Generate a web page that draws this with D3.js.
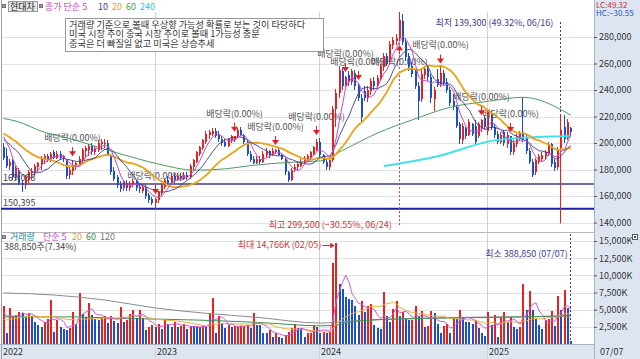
<!DOCTYPE html>
<html><head><meta charset="utf-8">
<script src="https://cdn.jsdelivr.net/npm/d3@7/dist/d3.min.js"></script>
<style>
html,body{margin:0;padding:0;background:#fff;}
svg{display:block;}
text{font-family:"Noto Sans CJK KR","Noto Sans",sans-serif;font-size:9px;}
</style></head><body>
<svg id="chart" width="640" height="359"></svg>
<script>
// ---------------- DATA (weekly, prices in thousand won, volume in thousand shares) ----------------
const stockName = "현대차";
const startWeek = "2022-01-31";
const opens = [197,190,183,187,174,180,170,168,172,177, 178,182,184,188,190,188,193,189,192,190,
  187,176,179,182,184,187,194,195,198,193, 195,199,199,200,191,179,174,169,166,170,
  166,169,171,167,164,167,161,158,155,157, 162,167,172,170,175,172,175,173,176,174,
  182,186,192,196,201,206,207,209,206,203, 201,198,202,202,205,210,206,201,192,188,
  185,188,186,191,194,191,193,195,191,188, 178,172,180,182,183,185,188,189,192,195,
  201,191,186,182,187,226,238,254,244,251, 246,253,243,234,239,234,239,247,243,249,
  257,266,261,274,277,279,292,276,266,258, 254,243,233,251,256,250,233,248,244,253,
  246,240,232,227,214,202,211,206,214,213, 205,211,219,209,222,212,207,201,208,199,
  205,193,199,204,208,204,194,186,178,186, 188,190,192,199,186,182,196,212,204,211];
const highs = [200,196,188,188,183,181,172,176,180,181, 184,186,190,192,192,193,195,194,194,191,
  188,182,187,186,190,196,198,199,200,198, 202,203,203,202,192,182,176,171,172,172,
  171,173,172,169,169,168,162,159,158.5,164, 169,173,175,177,177,177,177,178,178,184,
  188,194,198,203,209,210,211,211,209,205, 203,204,206,205.5,211,212,207,202,194,190,
  190,190,194,196,195,196,195.5,196,192,189, 179,181,184,186,188,190,192,194,198,203,
  204,192,187,188,228,241,258,257,250.5,254, 256,255,244.5,237,243,243,249,250,251,260,
  268,268,277,280,282,299.5,297,279,268,261, 256,246,255,258,258,252,242,256,257,255,
  249,242,237,229,216,215,212,218,215,217, 216,218,221,226,224,214,209,208,210,208,
  205.3,202,207,209,234.5,206,196,188,189,192, 193,195,201,200,188,197,222,221,218,212];
const lows = [187,181,180,172,172,168,163,165,170,173, 176,178,180,184,186,186,188,188,187,186,
  173,173,176,180,183,185,189,190,191,191, 193,195,196,190,176,171,166,163,164,164,
  164,167,164,162,162,158,155,153,150.395,155, 160,165,168,169,170,171,171,172,172,173,
  180,185,190,195,199,203,205,204,201,198, 197,197,200,201,204,205,199,190,186,184,
  184,184,185,189,189,190,192,190,187,176, 170.6,171,178,180,182,184,186,187,191,194,
  189,184,180,180,186,212,234,240,242,243, 244,240,232,215,232,231,236,240,241,247,
  254,258,259,271,274,276,274,262,254,250, 241,217,231,248,247,230,224,242,242,243,
  238,228,225,211,199,199,203,205,205,199, 204,208,210,206,210,204,199,199,198,196,
  191,191,197,202,201,192,184,174,176,184, 186,187,190,182,179,180,139.3,200,202,206];
const closes = [189,183,186,174,181,170,168,174,178,179, 183,185,189,190,188,192,189,192,189,188,
  175,180,183,185,188,195,196,198,193,196, 200,201,200,192,178,173,168,165,171,166,
  170,171,166,165,167,160,157,155,158,163, 168,172,170,175,172,175,173,176,174,183,
  187,193,197,202,207,208,209,205,203,200, 198,203,205,205,210,206,201,192,187,185,
  188,186,192,194,191,194,195,191,188,178, 172,180,182,184,186,189,190,193,197,201,
  191,186,182,187,226,238,255,243,250,246, 254,243,234,220,234,240,247,243,249,258,
  266,260,275,278,279,293,276,265,257,252, 243,232,252,256,250,234,240,244,253,245,
  240,230,227,213,203,213,205,216,207,201, 214,217,212,224,212,206,201,206,200,206,
  193,200,205,207,203,194,186,176,187,190, 191,193,199,184,181,195,210,203,216,208];
const volumes = [5530,1600,5290,4080,4220,4700,4560,3930,4510,4080, 3250,2770,2520,3250,3590,6400,1790,3500,2520,2180,
  2040,2380,4700,2910,7380,4370,3880,5920,4220,3590, 3560,3880,4080,3010,4080,3390,3100,5340,3250,3500,
  4370,4950,3740,4950,3740,2040,2520,2770,2520,2910, 2140,3500,2910,2520,3250,2520,2620,2910,2140,2620,
  2600,2520,2480,2560,2500,4460,6650,1550,4080,3010, 2280,2770,2520,2560,2620,2650,2680,2770,2380,4460,
  2770,2700,1650,1550,2040,1070,1550,1070,830,1310, 1790,2280,2870,2280,2260,1070,1550,1550,2770,2520,
  1550,1790,1550,1790,11840,14766,8740,7960,6890,6500, 6400,5530,4220,6300,4700,5530,5820,2770,2280,2140,
  7620,4080,3250,5050,6300,4080,4700,3590,3450,3500, 5530,4080,4800,2520,2600,4850,4460,2910,1550,2620,
  2910,1550,3740,3700,4950,3880,3250,3200,2910,3390, 2280,1550,1160,4700,2770,4220,970,3880,4700,3250,
  3880,2520,2140,2520,8740,4950,7770,4950,3590,2770, 2140,3500,3590,4850,2620,6990,4950,7860,5298,388.85];
// weeks before the first visible bar (for the short moving averages)
const prevCloses = [214,213,212,212,211,211,212,210,211,210,206,203,200,198,198,205,210,213,207];
const prevVolumes = [3200,2900,3100,2800,3300,3000,2700,3400,3100,3600,2900,3300,3800,3500,3900,4200,5100,4400,3800];
// long moving averages (week index, value)
const ma60Idx = [0,4,13,20,31,41,50,60,70,78,91,100,107,118,129,141,153,164,179];
const ma60Val = [218.5,216.5,208,204,196,189,183.5,179.5,180.5,183,185.5,186.5,194.5,207.5,217.5,227,231.5,234.5,221];
const ma240Idx = [120,137,154,164,179];
const ma240Val = [182.6,190,201.6,204,205.3];
const volMa60Idx = [0,20,40,60,80,100,104,110,118,130,150,165,179];
const volMa60Val = [3950,3950,3700,3500,3150,2650,2700,3250,3550,3700,3850,3950,4150];
const volMa120Idx = [0,16,32,48,64,80,100,110,125,140,160,179];
const volMa120Val = [7430,7130,6400,5240,4470,3880,3050,3350,3650,3850,3950,4050];
const dividendIdx = [22,48,73,86,99,108,112,125,138,151,160];
const supportLevels = [169058, 150395];
const priceTicks = [140000,160000,180000,200000,220000,240000,260000,280000];
const volTicks = [2500,5000,7500,10000,12500,15000];
const noteLines = ["거래량 기준으로 볼때 우상향 가능성 확률로 보는 것이 타당하다",
  "미국 시장 추이 중국 시장 추이로 볼때 1가능성 충분",
  "중국은 더 빠질일 없고 미국은 상승추세"];

// ---------------- BUILD ----------------
const K = 1000;
const N = closes.length;
const t0 = new Date(startWeek + "T00:00:00Z");
const bars = d3.range(N).map(i => ({i, date: d3.utcDay.offset(t0, 7*i),
  o: opens[i]*K, h: highs[i]*K, l: lows[i]*K, c: closes[i]*K, v: volumes[i]}));
const allC = prevCloses.concat(closes).map(v => v*K);
const allV = prevVolumes.concat(volumes);
const P = prevCloses.length;
const sma = (arr, n) => d3.range(N).map(i => d3.mean(arr.slice(P+i+1-n, P+i+1)));

const svg = d3.select("#chart");
const W = 640, H = 359, plotL = 1, plotR = 594, pTop = 12, pBot = 232, vTop = 233, vBot = 344, axTop = 345;
const x = d3.scaleLinear().domain([0, N-1]).range([3.5, 570.9]);
const yP = d3.scaleLinear().domain([140000, 280000]).range([222.5, 37]);
const yV = d3.scaleLinear().domain([0, 15000]).range([vBot, 241]);
const UP = "#e32222", DN = "#1d4fc8";

svg.append("rect").attr("width", W).attr("height", H).attr("fill", "#fff");
svg.append("rect").attr("x", plotR).attr("y", 0).attr("width", W-plotR).attr("height", H).attr("fill", "#dde6f0");
svg.append("rect").attr("x", 0).attr("y", axTop).attr("width", plotR).attr("height", H-axTop).attr("fill", "#dde6f0");

const defs = svg.append("defs");
defs.append("clipPath").attr("id", "clipP").append("rect").attr("x", plotL).attr("y", pTop-4).attr("width", plotR-plotL).attr("height", pBot-pTop+4);
defs.append("clipPath").attr("id", "clipV").append("rect").attr("x", plotL).attr("y", vTop).attr("width", plotR-plotL).attr("height", vBot-vTop);
defs.append("clipPath").attr("id", "clipNote").append("rect").attr("x", 66).attr("y", 19).attr("width", 257).attr("height", 32);

// grid
const grid = svg.append("g").attr("shape-rendering", "crispEdges");
grid.selectAll("line.gp").data(priceTicks).join("line").attr("class", "gp")
  .attr("x1", plotL).attr("x2", plotR).attr("y1", d => Math.round(yP(d))+0.5).attr("y2", d => Math.round(yP(d))+0.5)
  .attr("stroke", "#e2e2e2");
grid.selectAll("line.gv").data(volTicks).join("line").attr("class", "gv")
  .attr("x1", plotL).attr("x2", plotR).attr("y1", d => Math.round(yV(d))+0.5).attr("y2", d => Math.round(yV(d))+0.5)
  .attr("stroke", "#e2e2e2");
const yearStarts = bars.filter((b, i) => i === 0 || b.date.getUTCFullYear() !== bars[i-1].date.getUTCFullYear());
grid.selectAll("line.yr").data(yearStarts.slice(1)).join("line").attr("class", "yr")
  .attr("x1", d => Math.round(x(d.i))-0.5).attr("x2", d => Math.round(x(d.i))-0.5)
  .attr("y1", pTop).attr("y2", H).attr("stroke", "#d2d2d2");
// panel borders
grid.append("line").attr("x1", plotL+0.5).attr("x2", plotL+0.5).attr("y1", 0).attr("y2", H).attr("stroke", "#a0a0a0");
grid.append("line").attr("x1", plotL).attr("x2", plotR).attr("y1", pBot+0.5).attr("y2", pBot+0.5).attr("stroke", "#b8b8b8");
grid.append("line").attr("x1", 0).attr("x2", plotR).attr("y1", axTop-0.5).attr("y2", axTop-0.5).attr("stroke", "#a8b4c4");
grid.append("line").attr("x1", plotR+0.5).attr("x2", plotR+0.5).attr("y1", 0).attr("y2", H).attr("stroke", "#a8b4c4");

// support lines
const supColors = ["#6e6ea2", "#1c1ca8"];
svg.selectAll("line.sup").data(supportLevels).join("line").attr("class", "sup")
  .attr("x1", plotL).attr("x2", plotR).attr("y1", d => yP(d)).attr("y2", d => yP(d))
  .attr("stroke", (d, i) => supColors[i]).attr("stroke-width", 2);

// max / min markers
const iMax = d3.maxIndex(bars, b => b.h), iMin = d3.minIndex(bars, b => b.l);
const last = bars[N-1];
const fmtD = d3.utcFormat("%m/%d");
svg.append("line").attr("x1", Math.round(x(iMax))-0.5).attr("x2", Math.round(x(iMax))-0.5)
  .attr("y1", yP(bars[iMax].h)).attr("y2", 225).attr("stroke", "#b04848").attr("stroke-dasharray", "2,2");
svg.append("line").attr("x1", Math.round(x(iMin))-0.5).attr("x2", Math.round(x(iMin))-0.5)
  .attr("y1", 22).attr("y2", yP(bars[iMin].l)).attr("stroke", "#3c3c90").attr("stroke-dasharray", "2,2");

// dividend labels behind candles (as in the reference)
const gdl = svg.append("g");
const gd = svg.append("g");
const gc = svg.append("g").attr("clip-path", "url(#clipP)").attr("shape-rendering", "crispEdges");
// candles
gc.selectAll("line.wick").data(bars).join("line").attr("class", "wick")
  .attr("x1", d => Math.round(x(d.i))-0.5).attr("x2", d => Math.round(x(d.i))-0.5)
  .attr("y1", d => yP(d.h)).attr("y2", d => yP(d.l))
  .attr("stroke", d => d.c >= d.o ? UP : DN);
gc.selectAll("rect.body").data(bars).join("rect").attr("class", "body")
  .attr("x", d => Math.round(x(d.i))-1).attr("width", 2)
  .attr("y", d => yP(Math.max(d.o, d.c))).attr("height", d => Math.max(1, Math.abs(yP(d.o)-yP(d.c))))
  .attr("fill", d => d.c >= d.o ? UP : DN);

// price moving averages
const lineIdx = d3.line().x((d, i) => x(i)).y(d => yP(d));
const mas = [{n: 5, c: "#c84ac8", w: 1}, {n: 10, c: "#3c3c8a", w: 0.9}, {n: 20, c: "#e8a318", w: 1.8}];
const gm = svg.append("g").attr("clip-path", "url(#clipP)").attr("fill", "none");
gm.append("path").attr("d", d3.line().x((d, k) => x(ma60Idx[k])).y(d => yP(d*K)).curve(d3.curveMonotoneX)(ma60Val))
  .attr("stroke", "#4e9a62").attr("stroke-width", 1);
gm.append("path").attr("d", d3.line().x((d, k) => x(ma240Idx[k])).y(d => yP(d*K)).curve(d3.curveMonotoneX)(ma240Val))
  .attr("stroke", "#44e2e6").attr("stroke-width", 2);
mas.slice().reverse().forEach(m => {
  gm.append("path").attr("d", lineIdx(sma(allC, m.n))).attr("stroke", m.c).attr("stroke-width", m.w);
});

// dividend markers: arrow above the high, or below the low when there is no room above
dividendIdx.forEach(i => {
  const cx = Math.round(x(i))-0.5;
  let tip = yP(bars[i].h) - 4;
  if (tip - 24 < pTop) {
    tip = yP(bars[i].l) + 3;
    gd.append("path").attr("d", `M${cx-3.5},${tip+5}L${cx+3.5},${tip+5}L${cx},${tip}Z`).attr("fill", "#e02020");
    gd.append("line").attr("x1", cx).attr("x2", cx).attr("y1", tip+4).attr("y2", tip+9).attr("stroke", "#e02020");
    gdl.append("text").attr("x", cx).attr("y", tip+20).attr("text-anchor", "middle").attr("fill", "#555").text("배당락(0.00%)");
  } else {
    gd.append("line").attr("x1", cx).attr("x2", cx).attr("y1", tip-9).attr("y2", tip-4).attr("stroke", "#e02020");
    gd.append("path").attr("d", `M${cx-3.5},${tip-5}L${cx+3.5},${tip-5}L${cx},${tip}Z`).attr("fill", "#e02020");
    gdl.append("text").attr("x", cx).attr("y", tip-15).attr("text-anchor", "middle").attr("fill", "#555").text("배당락(0.00%)");
  }
});
gd.raise();

// support level labels
svg.selectAll("text.sup").data(supportLevels).join("text").attr("class", "sup")
  .attr("x", 3).attr("y", d => yP(d)-2.5).attr("fill", "#444").text(d => d3.format(",")(d));

// volume bars
const gv = svg.append("g").attr("clip-path", "url(#clipV)").attr("shape-rendering", "crispEdges");
gv.selectAll("rect.vb").data(bars).join("rect").attr("class", "vb")
  .attr("x", d => Math.round(x(d.i))-1).attr("width", 2)
  .attr("y", d => yV(d.v)).attr("height", d => vBot - yV(d.v))
  .attr("fill", (d, i) => (i === 0 ? d.v >= prevVolumes[P-1] : d.v >= bars[i-1].v) ? UP : DN);
const gvm = svg.append("g").attr("clip-path", "url(#clipV)").attr("fill", "none");
const lineV = d3.line().x((d, i) => x(i)).y(d => yV(d));
gvm.append("path").attr("d", d3.line().x((d, k) => x(volMa120Idx[k])).y(d => yV(d)).curve(d3.curveMonotoneX)(volMa120Val))
  .attr("stroke", "#8c8c8c").attr("stroke-width", 1);
gvm.append("path").attr("d", d3.line().x((d, k) => x(volMa60Idx[k])).y(d => yV(d)).curve(d3.curveMonotoneX)(volMa60Val))
  .attr("stroke", "#3d8f52").attr("stroke-width", 1);
gvm.append("path").attr("d", lineV(sma(allV, 20))).attr("stroke", "#e6b23a").attr("stroke-width", 1);
gvm.append("path").attr("d", lineV(sma(allV, 5))).attr("stroke", "#cf5ccf").attr("stroke-width", 1);

// volume max / min
const iVmax = d3.maxIndex(bars, b => b.v), iVmin = d3.minIndex(bars, b => b.v);
svg.append("line").attr("x1", Math.round(x(iVmin))-0.5).attr("x2", Math.round(x(iVmin))-0.5)
  .attr("y1", vTop+1).attr("y2", vBot).attr("stroke", "#3c3c90").attr("stroke-dasharray", "2,2");
svg.append("text").attr("x", x(iVmax)-15).attr("y", 248).attr("text-anchor", "end").attr("fill", "#c83838")
  .text(`최대 ${d3.format(",")(bars[iVmax].v)}K (${fmtD(bars[iVmax].date)})`);
svg.append("line").attr("x1", x(iVmax)-14).attr("x2", x(iVmax)-3).attr("y1", 245.5).attr("y2", 245.5).attr("stroke", "#e02020");
svg.append("path").attr("d", `M${x(iVmax)-2},245.5L${x(iVmax)-6},242.5L${x(iVmax)-6},248.5Z`).attr("fill", "#e02020");
svg.append("text").attr("x", x(iVmin)-3).attr("y", 257).attr("text-anchor", "end").attr("fill", "#3c3c8c")
  .text(`최소 ${d3.format(",")(Math.round(bars[iVmin].v*K))} (${fmtD(bars[iVmin].date)})`);

// price annotations
svg.append("text").attr("x", x(iMax)-8).attr("y", 228).attr("text-anchor", "end").attr("fill", "#c83838")
  .text(`최고 ${d3.format(",")(bars[iMax].h)} (${d3.format(".2f")((last.c/bars[iMax].h-1)*100)}%, ${fmtD(bars[iMax].date)})`);
svg.append("text").attr("x", x(iMin)-8).attr("y", 26).attr("text-anchor", "end").attr("fill", "#3c3c8c")
  .text(`최저 ${d3.format(",")(bars[iMin].l)} (${d3.format(".2f")((last.c/bars[iMin].l-1)*100)}%, ${fmtD(bars[iMin].date)})`);

// note box
svg.append("rect").attr("x", 65.5).attr("y", 18.5).attr("width", 258).attr("height", 33).attr("fill", "#fff").attr("stroke", "#999");
svg.append("g").attr("clip-path", "url(#clipNote)").selectAll("text").data(noteLines).join("text")
  .attr("x", 69).attr("y", (d, i) => 27.5 + i*9.6).attr("fill", "#333").style("font-size", "9.2px").text(d => d);

// header legend
svg.append("rect").attr("x", plotL+1).attr("y", 0).attr("width", plotR-plotL-1).attr("height", 12).attr("fill", "#fff");
svg.append("rect").attr("x", 2.5).attr("y", 4.5).attr("width", 3).attr("height", 3).attr("fill", "#999").attr("stroke", "#777");
svg.append("rect").attr("x", 8.5).attr("y", 1.5).attr("width", 29).attr("height", 10).attr("fill", "#e6e6e6").attr("stroke", "#9a9a9a");
svg.append("text").attr("x", 10).attr("y", 10).attr("fill", "#222").text(stockName);
svg.append("rect").attr("x", 39.5).attr("y", 4.5).attr("width", 3).attr("height", 3).attr("fill", "#999").attr("stroke", "#777");
const legendP = [{t: "종가 단순 5", c: "#c84ac8", x: 45}, {t: "10", c: "#3c3c8a", x: 98}, {t: "20", c: "#d9a317", x: 112},
  {t: "60", c: "#4e9a62", x: 126}, {t: "240", c: "#2cc8d0", x: 140}];
svg.selectAll("text.lp").data(legendP).join("text").attr("class", "lp").attr("x", d => d.x).attr("y", 10).attr("fill", d => d.c).text(d => d.t);

svg.append("rect").attr("x", 2.5).attr("y", 235.5).attr("width", 3).attr("height", 3).attr("fill", "#999").attr("stroke", "#777");
const legendV = [{t: "거래량", c: "#2e8c9c", x: 10}, {t: "단순 5", c: "#c84ac8", x: 43}, {t: "20", c: "#d9a317", x: 72},
  {t: "60", c: "#3d8f52", x: 86}, {t: "120", c: "#777", x: 100}];
svg.selectAll("text.lv").data(legendV).join("text").attr("class", "lv").attr("x", d => d.x).attr("y", 240).attr("fill", d => d.c).text(d => d.t);
svg.append("text").attr("x", 4).attr("y", 250).attr("fill", "#444")
  .text(`${d3.format(",")(Math.round(last.v*K))}주(${d3.format(".2f")(last.v/bars[N-2].v*100)}%)`);

// right axes
const axP = svg.append("g").attr("transform", `translate(${plotR},0)`)
  .call(d3.axisRight(yP).tickValues(priceTicks).tickFormat(d3.format(",")).tickSize(3).tickPadding(2));
const axV = svg.append("g").attr("transform", `translate(${plotR},0)`)
  .call(d3.axisRight(yV).tickValues(volTicks).tickFormat(d => d3.format(",")(d) + "K").tickSize(3).tickPadding(2));
[axP, axV].forEach(a => {
  a.select(".domain").remove();
  a.selectAll("line").attr("stroke", "#555");
  a.selectAll("text").attr("fill", "#333").style("font-size", "9px").style("font-family", '"Noto Sans CJK KR",sans-serif');
});
svg.append("text").attr("x", 596).attr("y", 7.5).attr("fill", "#d03030").style("font-size", "8px")
  .text(`LC:${d3.format(".2f")((last.c/bars[iMin].l-1)*100)}`);
svg.append("text").attr("x", 596).attr("y", 16).attr("fill", "#2f55c0").style("font-size", "8px")
  .text(`HC:${d3.format(".2f")((last.c/bars[iMax].h-1)*100)}`);
svg.append("rect").attr("x", 632.5).attr("y", 234.5).attr("width", 5).attr("height", 5).attr("fill", "#fff").attr("stroke", "#555");
svg.append("rect").attr("x", 634).attr("y", 236).attr("width", 2).attr("height", 2).attr("fill", "#555");

// bottom axis labels
svg.selectAll("text.yr").data(yearStarts).join("text").attr("class", "yr")
  .attr("x", d => d.i === 0 ? 3 : Math.round(x(d.i))+1).attr("y", 355).attr("fill", "#333")
  .text(d => d.date.getUTCFullYear());
svg.append("text").attr("x", 600).attr("y", 355).attr("fill", "#333").text(fmtD(last.date));
</script></body></html>
